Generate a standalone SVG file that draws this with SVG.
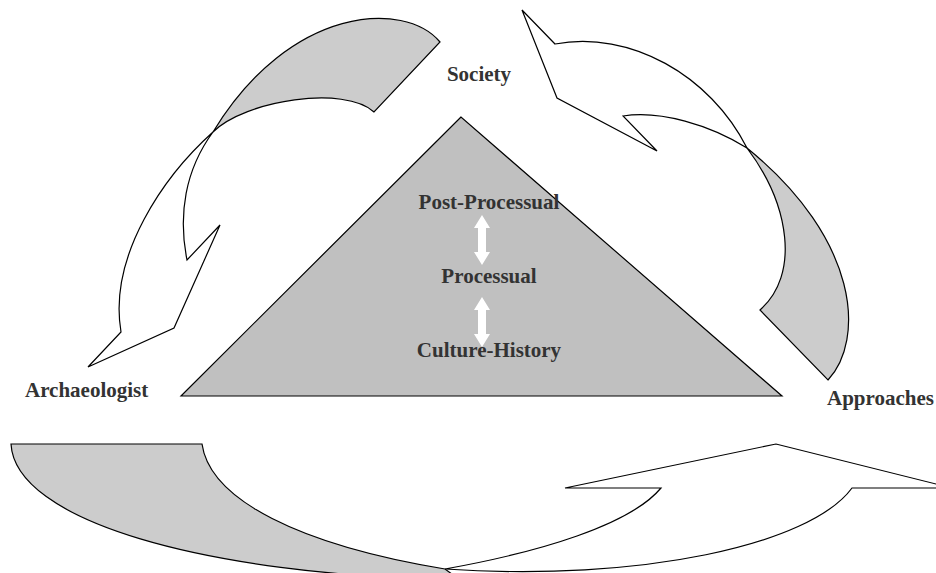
<svg xmlns="http://www.w3.org/2000/svg" width="936" height="573" viewBox="0 0 936 573">
<style>
.lbl{font-family:"Liberation Serif","Times New Roman",serif;font-weight:bold;font-size:21px;fill:#333333}
.ol{stroke:#000;stroke-width:1.2;stroke-linejoin:miter}
.g{fill:#cccccc}
.w{fill:#ffffff}
</style>
<rect width="936" height="573" fill="#ffffff"/>
<g id="cycle">
  <g id="arrow-society-archaeologist">
    <path class="ol g" d="M440,42 C405,0 290,5 213,132 C245,100 345,85 374,112 Z"/>
    <path class="ol w" d="M213,132 C165,175 108,255 121,332 L88,367 L174,328 L220,225 L187,260 C178,215 185,170 213,132 Z"/>
  </g>
  <g id="arrow-society-approaches">
    <path class="ol w" d="M555,44 C630,30 710,75 747,148 C710,125 660,110 623,116 L657,151 L557,98 L522,10 Z"/>
    <path class="ol g" d="M747,148 C790,205 800,275 760,310 L828,380 C865,340 860,240 747,148 Z"/>
  </g>
  <g id="arrow-archaeologist-approaches">
    <path class="ol g" d="M11,444 L202,444 C210,500 300,545 445,569 L460,580 C200,575 15,520 11,444 Z"/>
    <path class="ol w" d="M445,569 C540,552 630,525 661,488 L565,488 L776,444 L952,488 L852,488 C810,545 640,582 445,569 Z"/>
  </g>
</g>
<g id="triangle">
  <polygon points="461,117 181,396 782,396" fill="#c0c0c0" stroke="#000" stroke-width="1.2"/>
  <g id="approach-arrows" fill="#ffffff">
    <polygon points="482,215 490,228 486,228 486,252 490,252 482,265 474,252 478,252 478,228 474,228"/>
    <polygon points="482,297 490,310 486,310 486,334 490,334 482,347 474,334 478,334 478,310 474,310"/>
  </g>
  <text class="lbl" x="489" y="209" text-anchor="middle">Post-Processual</text>
  <text class="lbl" x="489" y="283" text-anchor="middle">Processual</text>
  <text class="lbl" x="489" y="357" text-anchor="middle">Culture-History</text>
</g>
<g id="society"><text class="lbl" x="479" y="81" text-anchor="middle">Society</text></g>
<g id="archaeologist"><text class="lbl" x="25" y="397">Archaeologist</text></g>
<g id="approaches"><text class="lbl" x="827" y="405">Approaches</text></g>
</svg>
